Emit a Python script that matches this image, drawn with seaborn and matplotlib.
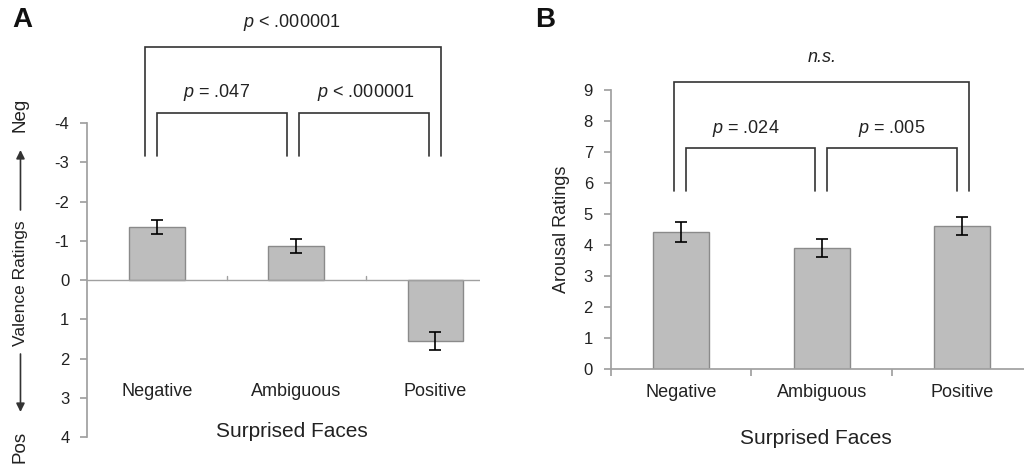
import matplotlib
matplotlib.use("Agg")
import matplotlib.pyplot as plt
import matplotlib.patches as mpatches
import seaborn as sns
import pandas as pd

categories = ["Negative", "Ambiguous", "Positive"]
valence_means = [-1.36, -0.87, 1.55]
valence_err = [0.18, 0.17, 0.22]
arousal_means = [4.43, 3.91, 4.61]
arousal_err = [0.32, 0.30, 0.30]
valence_ticks = [-4, -3, -2, -1, 0, 1, 2, 3, 4]
arousal_ticks = list(range(0, 10))

sns.set_theme(style="white")
plt.rcParams['font.family'] = ['Liberation Sans', 'DejaVu Sans']
plt.rcParams['mathtext.fontset'] = 'custom'
plt.rcParams['mathtext.it'] = 'Liberation Sans:italic'
plt.rcParams['mathtext.rm'] = 'Liberation Sans'

BAR = "#bdbdbd"
EDGE = "#8a8a8a"
AX = "#a0a0a0"
TXT = "#222222"

fig = plt.figure(figsize=(10.24, 4.65), dpi=100)
axA = fig.add_axes([0.0854, 0.060, 0.3833, 0.6755])
axB = fig.add_axes([0.5967, 0.2065, 0.4033, 0.5995])

def bars(ax, means, errs):
    df = pd.DataFrame({"cat": categories, "val": means})
    sns.barplot(data=df, x="cat", y="val", color=BAR, width=0.4,
                edgecolor=EDGE, linewidth=1.0, saturation=1, errorbar=None, ax=ax)
    ax.errorbar(range(len(categories)), means, yerr=errs, fmt="none",
                ecolor="black", elinewidth=1.2, capsize=4, capthick=1.2, zorder=5)
    ax.set_xlabel("")
    ax.set_ylabel("")

def bracket(ax, x0, x1, ytop, ybot):
    ax.plot([x0, x0, x1, x1], [ybot, ytop, ytop, ybot], color="#333333",
            lw=1.2, clip_on=False, solid_joinstyle="miter")

# ---------- Panel A ----------
bars(axA, valence_means, valence_err)
axA.set_ylim(4, -4)
axA.set_xlim(-0.5, 2.32)
axA.set_yticks(valence_ticks)
axA.set_yticklabels([str(t) for t in valence_ticks], fontsize=12, color=TXT)
axA.set_xticks([])
for s in ["top", "right", "bottom"]:
    axA.spines[s].set_visible(False)
axA.spines["left"].set_color(AX)
axA.tick_params(axis="y", length=5, color=AX, direction="out", left=True, pad=8)
axA.axhline(0, color=AX, lw=1.0, zorder=1)
for xt in [0.5, 1.5]:
    axA.plot([xt, xt], [0, -0.1], color=AX, lw=1.0)
for i, c in enumerate(categories):
    axA.text(i, 2.85, c, ha="center", va="center", fontsize=13, color=TXT)
axA.text(0.97, 3.85, "Surprised Faces", ha="center", va="center", fontsize=15,
         color=TXT, clip_on=False)

bracket(axA, -0.086, 2.04, -5.93, -3.16)
bracket(axA, 0.0, 0.935, -4.26, -3.16)
bracket(axA, 1.02, 1.955, -4.26, -3.16)
axA.text(0.43, -4.77, "$p$ = .047", ha="center", va="center", fontsize=13, color=TXT)
axA.text(1.50, -4.77, "$p$ < .000001", ha="center", va="center", fontsize=13, color=TXT)
axA.text(0.97, -6.56, "$p$ < .000001", ha="center", va="center", fontsize=13, color=TXT)

# y-label with arrows
fig.text(0.020, 1 - 115 / 465, "Neg", rotation=90, ha="center", va="center", fontsize=13.5, color=TXT)
fig.text(0.020, 1 - 283 / 465, "Valence Ratings", rotation=90, ha="center", va="center",
         fontsize=12.5, color=TXT)
fig.text(0.020, 1 - 447 / 465, "Pos", rotation=90, ha="center", va="center", fontsize=13.5, color=TXT)
fig.add_artist(mpatches.FancyArrowPatch((0.020, 1 - 210 / 465), (0.020, 1 - 150 / 465),
               transform=fig.transFigure, arrowstyle="-|>,head_length=5,head_width=2.5",
               color="#333333", lw=1.2, shrinkA=0, shrinkB=0))
fig.add_artist(mpatches.FancyArrowPatch((0.020, 1 - 354 / 465), (0.020, 1 - 412 / 465),
               transform=fig.transFigure, arrowstyle="-|>,head_length=5,head_width=2.5",
               color="#333333", lw=1.2, shrinkA=0, shrinkB=0))

# ---------- Panel B ----------
bars(axB, arousal_means, arousal_err)
axB.set_ylim(0, 9)
axB.set_xlim(-0.5, 2.44)
axB.set_yticks(arousal_ticks)
axB.set_yticklabels([str(t) for t in arousal_ticks], fontsize=12, color=TXT)
axB.set_xticks([-0.5, 0.5, 1.5])
axB.set_xticklabels([])
for s in ["top", "right"]:
    axB.spines[s].set_visible(False)
axB.spines["left"].set_color(AX)
axB.spines["bottom"].set_color(AX)
axB.tick_params(axis="y", length=5, color=AX, direction="out", left=True, pad=8)
axB.tick_params(axis="x", length=5, color=AX, direction="out", bottom=True)
for i, c in enumerate(categories):
    axB.text(i, -0.77, c, ha="center", va="center", fontsize=13, color=TXT, clip_on=False)
axB.text(0.96, -2.23, "Surprised Faces", ha="center", va="center", fontsize=15,
         color=TXT, clip_on=False)
axB.set_ylabel("Arousal Ratings", fontsize=13, color=TXT, labelpad=10)

bracket(axB, -0.05, 2.05, 9.27, 5.74)
bracket(axB, 0.034, 0.954, 7.15, 5.74)
bracket(axB, 1.04, 1.96, 7.15, 5.74)
axB.text(0.46, 7.77, "$p$ = .024", ha="center", va="center", fontsize=13, color=TXT)
axB.text(1.50, 7.77, "$p$ = .005", ha="center", va="center", fontsize=13, color=TXT)
axB.text(1.0, 10.06, "n.s.", ha="center", va="center", fontsize=13, color=TXT,
         fontstyle="italic", clip_on=False)

fig.text(0.012, 1 - 20 / 465, "A", fontsize=20, fontweight="bold", ha="left", va="center", color="#111111")
fig.text(0.523, 1 - 20 / 465, "B", fontsize=20, fontweight="bold", ha="left", va="center", color="#111111")

fig.savefig("out.png", dpi=100)
